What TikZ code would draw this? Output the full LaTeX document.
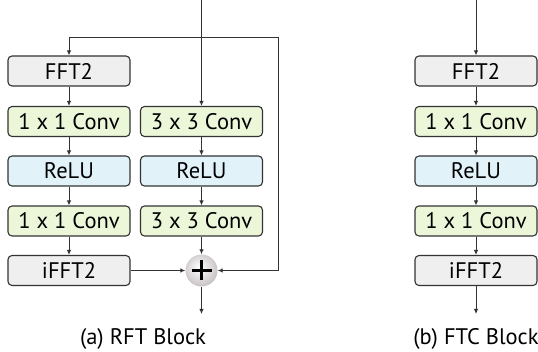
\documentclass[tikz,border=0pt]{standalone}
\usepackage{fontspec}
\setmainfont{PT Sans}
\usetikzlibrary{arrows.meta,positioning}
\definecolor{boxgray}{HTML}{EFEFEF}
\definecolor{boxgreen}{HTML}{ECF7DA}
\definecolor{boxblue}{HTML}{E1F3F9}
\definecolor{linec}{HTML}{333333}
\definecolor{ballc}{HTML}{A89EA2}
\pgfdeclareradialshading{plusball}{\pgfpoint{-4bp}{5bp}}{color(0bp)=(white); color(12bp)=(ballc!25!white); color(30bp)=(ballc!70!white); color(45bp)=(ballc); color(60bp)=(ballc!85!black)}
\begin{document}
\begin{tikzpicture}[x=1pt,y=-1pt,
  blk/.style={draw=linec,line width=1.1pt,rounded corners=4pt,minimum width=122pt,minimum height=30pt,inner sep=0pt,font=\fontsize{22.5}{26}\selectfont},
  gblk/.style={blk,fill=boxgray},
  cblk/.style={blk,fill=boxgreen},
  rblk/.style={blk,fill=boxblue},
  conn/.style={draw=linec,line width=0.9pt,-{Latex[length=5pt,width=4.5pt]}},
  captext/.style={font=\fontsize{22.5}{26}\selectfont}]
\useasboundingbox (0,0) rectangle (538,352);
% left column
\node[gblk] (fft) at (69,71) {FFT2};
\node[cblk] (c1) at (69,121.5) {1 x 1 Conv};
\node[rblk] (r1) at (69,171) {ReLU};
\node[cblk] (c2) at (69,221) {1 x 1 Conv};
\node[gblk] (ifft) at (69,270.5) {iFFT2};
% middle column
\node[cblk] (k1) at (201.5,121.5) {3 x 3 Conv};
\node[rblk] (r2) at (201.5,171) {ReLU};
\node[cblk] (k2) at (201.5,221) {3 x 3 Conv};
\node[circle,minimum size=32pt,inner sep=0pt,shading=plusball] (plus) at (201.5,270.5) {};
\draw[line width=2.4pt,black] ([xshift=-10pt]plus.center) -- ([xshift=10pt]plus.center) ([yshift=-10pt]plus.center) -- ([yshift=10pt]plus.center);
\coordinate (inA) at (201.5,0);
\coordinate (jA) at (201.5,37);
\coordinate (lA) at (69,37);
\coordinate (rA) at (278,37);
\coordinate (rB) at (278,270.5);
\coordinate (outA) at (201.5,314);
\draw[conn] (inA) -- (k1);
\draw[conn] (jA) -- (lA) -- (fft);
\draw[conn] (jA) -- (rA) -- (rB) -- (plus);
\draw[conn] (fft) -- (c1);
\draw[conn] (c1) -- (r1);
\draw[conn] (r1) -- (c2);
\draw[conn] (c2) -- (ifft);
\draw[conn] (k1) -- (r2);
\draw[conn] (r2) -- (k2);
\draw[conn] (k2) -- (plus);
\draw[conn] (ifft) -- (plus);
\draw[conn] (plus) -- (outA);
\node[captext] (capA) at (143,339) {(a) RFT Block};
% right column
\node[gblk] (fftB) at (476,71) {FFT2};
\node[cblk] (c1B) at (476,121.5) {1 x 1 Conv};
\node[rblk] (rB1) at (476,171) {ReLU};
\node[cblk] (c2B) at (476,221) {1 x 1 Conv};
\node[gblk] (ifftB) at (476,270.5) {iFFT2};
\coordinate (inB) at (476,0);
\coordinate (outB) at (476,314);
\draw[conn] (inB) -- (fftB);
\draw[conn] (fftB) -- (c1B);
\draw[conn] (c1B) -- (rB1);
\draw[conn] (rB1) -- (c2B);
\draw[conn] (c2B) -- (ifftB);
\draw[conn] (ifftB) -- (outB);
\node[captext] (capB) at (476,339) {(b) FTC Block};
\end{tikzpicture}
\end{document}
